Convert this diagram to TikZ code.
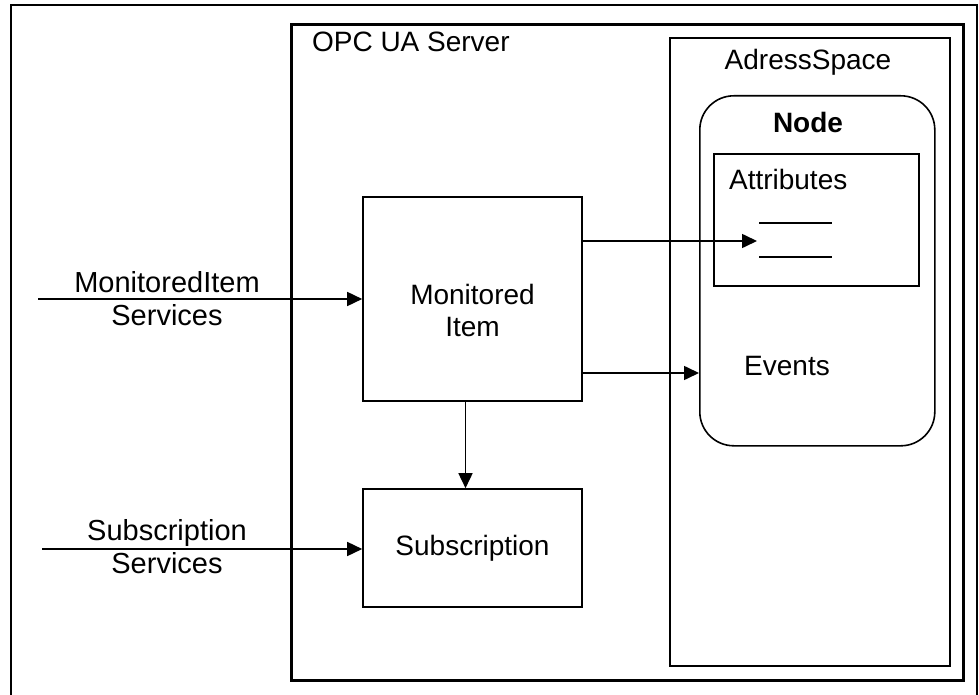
\documentclass[tikz,border=0pt]{standalone}
\usepackage{fontspec}
\setmainfont{Liberation Sans}
\usetikzlibrary{positioning,arrows.meta}

\begin{document}
\begin{tikzpicture}[x=0.5pt, y=-0.5pt,
    font=\fontsize{14}{16}\selectfont,
    box/.style={draw, line width=0.8pt, inner sep=0pt, align=center},
    arr/.style={-{Triangle[length=7.5pt,width=7pt]}, line width=0.8pt}]

    \useasboundingbox (0,0) rectangle (979,695);

    % Frame and containers
    \draw[line width=0.8pt] (11,695) |- (977,5) -- (977,695);
    \node[box, line width=1.6pt, anchor=north west, minimum width=336pt, minimum height=328pt] (server) at (290,23) {};
    \node[box, anchor=north west, minimum width=140pt, minimum height=314pt] (space) at (669,37) {};
    \node[box, rounded corners=17pt, anchor=north west, minimum width=117.5pt, minimum height=175pt] (nd) at (699,95) {};
    \node[box, anchor=north west, minimum width=102.5pt, minimum height=66pt] (attr) at (713,153) {};

    % Boxes
    \node[box, minimum width=109.5pt, minimum height=102pt] (mon) at (472.5,299) {};
    \node[box, minimum width=109.5pt, minimum height=59pt] (sub) at (472.5,548) {Subscription};

    % Labels
    \node[align=center] (monlbl) at (472.5,310) {Monitored\\Item};
    \node[anchor=west] (srvlbl) at (305,42) {OPC UA Server};
    \node (spclbl) at (808,62) {AdressSpace};
    \node[font=\fontsize{14}{16}\selectfont\bfseries] (ndlbl) at (808,122) {Node};
    \node[anchor=west] (attrlbl) at (722,179) {Attributes};
    \node (evt) at (787,366) {Events};
    \node[align=center, font=\fontsize{14.5}{16.5}\selectfont] (milbl) at (167,299) {MonitoredItem\\Services};
    \node[align=center, font=\fontsize{14.5}{16.5}\selectfont] (sublbl) at (167,547) {Subscription\\Services};

    % Attribute lines
    \coordinate (a1) at (759,223);
    \coordinate (a2) at (759,257);
    \draw[line width=0.8pt] (a1) -- ++(73,0);
    \draw[line width=0.8pt] (a2) -- ++(73,0);
    \coordinate (tip) at (757,241);
    \coordinate (evtin) at (699,373);
    \coordinate (misrc) at (38,299);
    \coordinate (subsrc) at (42,549);

    % Arrows
    \draw[arr] (misrc) -- (mon.west);
    \draw[arr] (subsrc) -- (sub.west |- subsrc);
    \draw[arr] (mon.east |- tip) -- (tip);
    \draw[arr] (mon.east |- evtin) -- (evtin);
    \draw[arr] ([xshift=-3.5pt]mon.south) -- ([xshift=-3.5pt]sub.north);
\end{tikzpicture}
\end{document}
